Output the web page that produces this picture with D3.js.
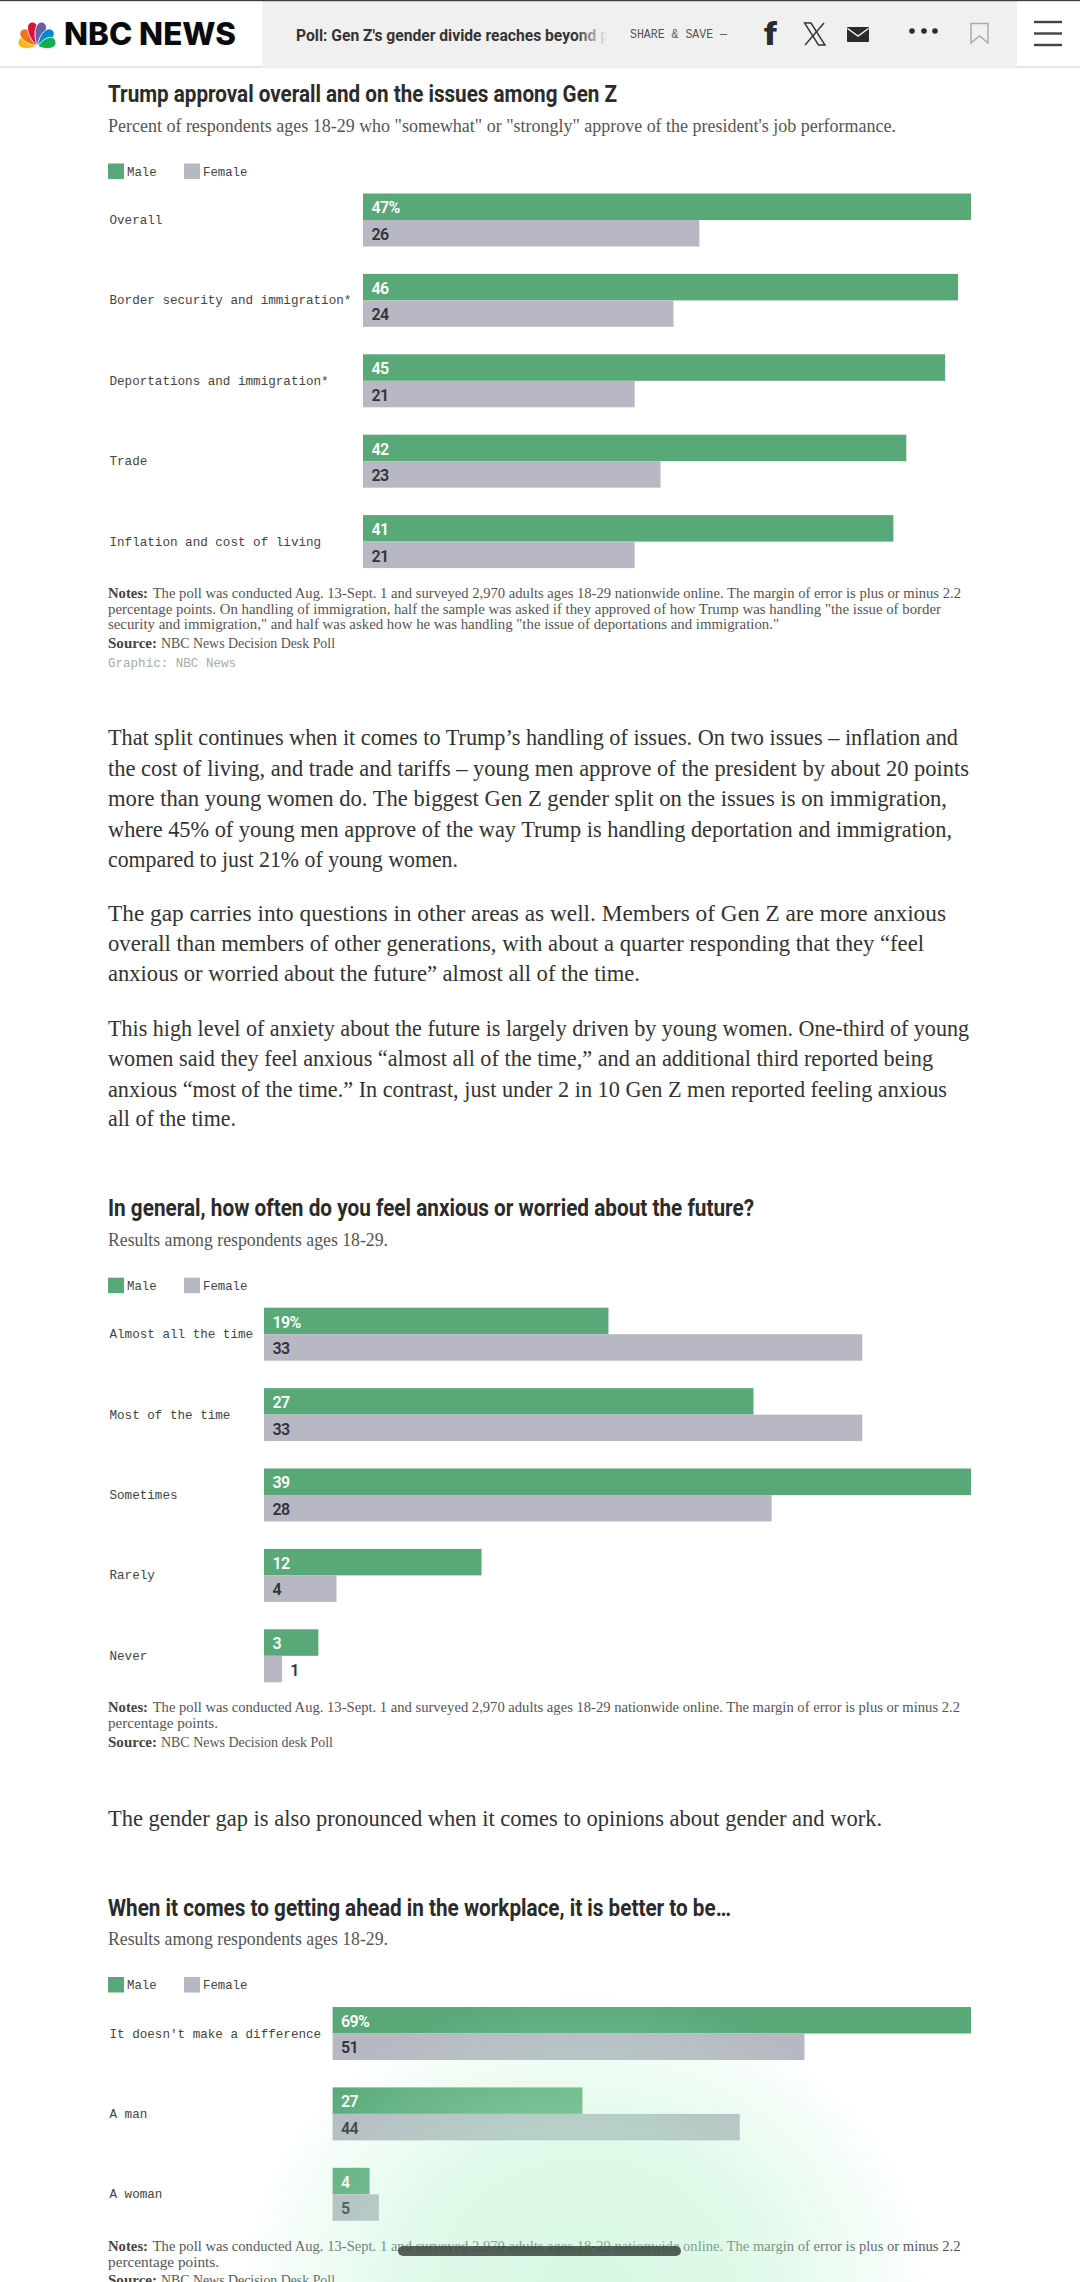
<!DOCTYPE html>
<html><head><meta charset="utf-8">
<script src="https://cdn.jsdelivr.net/npm/d3@7/dist/d3.min.js"></script>
<style>html,body{margin:0;padding:0;background:#fff;overflow:hidden}svg{display:block}</style>
</head><body><svg id="c" width="1080" height="2282"></svg>
<script>
// ---- data ----
const seriesNames = ["Male", "Female"];
const seriesColors = ["#58a878", "#b7b8c3"];

const approvalCategories = ["Overall","Border security and immigration*","Deportations and immigration*","Trade","Inflation and cost of living"];
const approvalMale = [47,46,45,42,41];
const approvalFemale = [26,24,21,23,21];

const anxietyCategories = ["Almost all the time","Most of the time","Sometimes","Rarely","Never"];
const anxietyMale = [19,27,39,12,3];
const anxietyFemale = [33,33,28,4,1];

const workCategories = ["It doesn't make a difference","A man","A woman"];
const workMale = [69,27,4];
const workFemale = [51,44,5];

const svg = d3.select("#c");
const SERIF = "'Liberation Serif',serif", SANS="Roboto,sans-serif", MONO="'Liberation Mono',monospace";

function txt(x,y,s,end,o={}){
  const t = svg.append("text").attr("x",x).attr("y",y).text(s)
    .attr("font-family",o.f||SERIF).attr("font-size",o.s||14).attr("fill",o.c||"#333")
    .attr("font-weight",o.w||400);
  if(end){t.attr("textLength",end-x).attr("lengthAdjust","spacingAndGlyphs");}
  return t;
}

// header
svg.append("rect").attr("width",1080).attr("height",66).attr("fill","#fff");
const defs = svg.append("defs");
const sh = defs.append("linearGradient").attr("id","hs").attr("x1",0).attr("x2",0).attr("y1",0).attr("y2",1);
sh.append("stop").attr("offset",0).attr("stop-color","#000").attr("stop-opacity",.14);
sh.append("stop").attr("offset",1).attr("stop-color","#000").attr("stop-opacity",0);
svg.append("rect").attr("y",66).attr("width",1080).attr("height",3).attr("fill","url(#hs)");
svg.append("rect").attr("x",262.5).attr("y",1).attr("width",754.5).attr("height",66).attr("fill","#f0f0f0");
svg.append("rect").attr("width",1080).attr("height",1.2).attr("fill","#3c3c44");

const peacock = [[-74,19.5,"#fcb711"],[-44,22.5,"#f37021"],[-13,25,"#e0103c"],[13,25,"#6460aa"],[44,22.5,"#0089d0"],[74,19.5,"#0db14b"]];
svg.append("g").attr("transform","translate(37,46.5)").selectAll("path").data(peacock).join("path")
  .attr("transform",d=>`rotate(${d[0]})`)
  .attr("d",d=>{const l=d[1],w=7.2;return `M0,-1 C${-w},${-l*.45} ${-w},${-l} 0,${-l} C${w},${-l} ${w},${-l*.45} 0,-1Z`})
  .attr("fill",d=>d[2]).attr("stroke","#fff").attr("stroke-width",.8);
txt(64,45,"NBC NEWS",236,{f:"Inter,"+SANS,s:31,w:800,c:"#0a0a0a"});

const fade = defs.append("linearGradient").attr("id","fd").attr("gradientUnits","userSpaceOnUse").attr("x1",575).attr("x2",607).attr("y1",0).attr("y2",0);
fade.append("stop").attr("offset",0).attr("stop-color","#333");
fade.append("stop").attr("offset",1).attr("stop-color","#333").attr("stop-opacity",0);
txt(296,40.5,"Poll: Gen Z's gender divide reaches beyond p",609,{f:SANS,s:16,w:700,c:"url(#fd)"});
txt(630,38,"SHARE & SAVE —",727,{f:MONO,s:12,c:"#555"});
// share icons
txt(764,45,"f",777,{f:SANS,s:31,w:900,c:"#2b2b2b"});
svg.append("path").attr("d","M804.5,23 L811,23 L825,45 L818.5,45Z").attr("fill","none").attr("stroke","#333").attr("stroke-width",1.4);
svg.append("path").attr("d","M824,23 L805,45").attr("stroke","#333").attr("stroke-width",1.4);
svg.append("rect").attr("x",847).attr("y",27).attr("width",22).attr("height",15).attr("rx",1).attr("fill","#2b2b2b");
svg.append("path").attr("d","M847.5,28.5 L858,36 L868.5,28.5").attr("fill","none").attr("stroke","#f0f0f0").attr("stroke-width",1.5);
svg.selectAll("circle.dot").data([912,924,935]).join("circle").attr("class","dot").attr("cx",d=>d).attr("cy",31).attr("r",2.8).attr("fill","#2b2b2b");
svg.append("path").attr("d","M971,23.5 H988 V43 L979.5,36 L971,43Z").attr("fill","none").attr("stroke","#aaa").attr("stroke-width",1.5);
svg.selectAll("rect.hb").data([22,33.5,45]).join("rect").attr("class","hb").attr("x",1034).attr("y",d=>d-1.2).attr("width",28).attr("height",2.4).attr("fill","#444");

function chart(o){
  txt(108,o.top-91.5,o.title,o.titleEnd,{f:SANS,s:23,w:700,c:"#2b2b2b"});
  txt(108,o.top-61.8,o.sub,o.subEnd,{s:19,c:"#555"});
  // legend
  const ly=o.top-30;
  const lx=[108,184];
  seriesNames.forEach((n,i)=>{
    svg.append("rect").attr("x",lx[i]).attr("y",ly).attr("width",16).attr("height",15.5).attr("fill",seriesColors[i]);
    txt(lx[i]+19,ly+12,n,lx[i]+19+n.length*7.4,{f:MONO,s:12.4,c:"#444"});
  });
  const n=o.cats.length, step=o.step, band=53;
  const y=d3.scaleBand().domain(o.cats).range([o.top,o.top+(n-1)*step+band]).paddingInner(1-band/step).paddingOuter(0);
  const y1=d3.scaleBand().domain(seriesNames).range([0,band]);
  const x=d3.scaleLinear().domain([0,d3.max(o.male.concat(o.female))]).range([o.x0,971]);
  const rows=o.cats.map((c,i)=>({c,vals:[o.male[i],o.female[i]]}));
  const g=svg.append("g").selectAll("g").data(rows).join("g").attr("transform",d=>`translate(0,${y(d.c)})`);
  g.append("text").attr("x",109.5).attr("y",band/2+4).text(d=>d.c)
    .attr("font-family",MONO).attr("font-size",12.6).attr("fill","#444");
  const b=g.selectAll("g").data(d=>d.vals.map((v,i)=>({v,i,s:seriesNames[i],c:d.c}))).join("g")
    .attr("transform",d=>`translate(0,${y1(d.s)})`);
  b.append("rect").attr("x",o.x0).attr("width",d=>x(d.v)-o.x0).attr("height",y1.bandwidth()).attr("fill",d=>seriesColors[d.i]);
  b.append("text").attr("y",y1.bandwidth()/2+6.7)
    .attr("x",d=>x(d.v)-o.x0<24?x(d.v)+8:o.x0+8.4)
    .text(d=>d.v+(d.i===0&&rows[0].c===d.c?"%":""))
    .attr("font-family",SANS).attr("font-size",16).attr("font-weight",600).attr("letter-spacing",-.6)
    .attr("fill",d=>d.i===0?"#fff":"#333");
}
chart({top:193.5,step:80.4,x0:363,cats:approvalCategories,male:approvalMale,female:approvalFemale,
  title:"Trump approval overall and on the issues among Gen Z",titleEnd:617,
  sub:"Percent of respondents ages 18-29 who \"somewhat\" or \"strongly\" approve of the president's job performance.",subEnd:896});
chart({top:1307.7,step:80.4,x0:264,cats:anxietyCategories,male:anxietyMale,female:anxietyFemale,
  title:"In general, how often do you feel anxious or worried about the future?",titleEnd:754,
  sub:"Results among respondents ages 18-29.",subEnd:388});
chart({top:2007,step:80.4,x0:332.6,cats:workCategories,male:workMale,female:workFemale,
  title:"When it comes to getting ahead in the workplace, it is better to be…",titleEnd:731,
  sub:"Results among respondents ages 18-29.",subEnd:388});

// notes
const N={s:15,c:"#555"},NB={s:15,c:"#444",w:700};
function note(y,lab,labEnd,restStart,s,end){txt(108,y,lab,labEnd,NB);txt(restStart,y,s,end,N);}
const poll="The poll was conducted Aug. 13-Sept. 1 and surveyed 2,970 adults ages 18-29 nationwide online. The margin of error is plus or minus 2.2";
note(598,"Notes:",148,152.7,poll,961);
txt(108,613.5,"percentage points. On handling of immigration, half the sample was asked if they approved of how Trump was handling \"the issue of border",941,N);
txt(108,629,"security and immigration,\" and half was asked how he was handling \"the issue of deportations and immigration.\"",779,N);
note(648,"Source:",157,161,"NBC News Decision Desk Poll",335);
txt(108,667,"Graphic: NBC News",236,{f:MONO,s:12,c:"#aaa"});

note(1712,"Notes:",148,152.7,poll,960);
txt(108,1728,"percentage points.",218,N);
note(1747,"Source:",157,161,"NBC News Decision desk Poll",333);

note(2250.7,"Notes:",148,152.7,poll,960.5);
txt(108,2266.7,"percentage points.",219,N);
note(2285,"Source:",157,161,"NBC News Decision Desk Poll",335);

// body text
const paragraphs=[
 [745,"That split continues when it comes to Trump’s handling of issues. On two issues – inflation and",958],
 [775.5,"the cost of living, and trade and tariffs – young men approve of the president by about 20 points",969],
 [806,"more than young women do. The biggest Gen Z gender split on the issues is on immigration,",947],
 [836.5,"where 45% of young men approve of the way Trump is handling deportation and immigration,",952],
 [867,"compared to just 21% of young women.",458],
 [920.5,"The gap carries into questions in other areas as well. Members of Gen Z are more anxious",946],
 [950.5,"overall than members of other generations, with about a quarter responding that they “feel",924],
 [981,"anxious or worried about the future” almost all of the time.",640],
 [1036,"This high level of anxiety about the future is largely driven by young women. One-third of young",969],
 [1066,"women said they feel anxious “almost all of the time,” and an additional third reported being",933],
 [1096.5,"anxious “most of the time.” In contrast, just under 2 in 10 Gen Z men reported feeling anxious",947],
 [1126,"all of the time.",236],
 [1826,"The gender gap is also pronounced when it comes to opinions about gender and work.",882]];
paragraphs.forEach(p=>txt(108,p[0],p[1],p[2],{s:24,c:"#333"}));

// bottom glow + home indicator
const gl=defs.append("radialGradient").attr("id","gl");
[[0,.55],[.25,.5],[.55,.4],[.68,.28],[.88,.12],[1,0]].forEach(s=>gl.append("stop").attr("offset",s[0]).attr("stop-color","#b6f2cc").attr("stop-opacity",s[1]));
svg.append("ellipse").attr("cx",585).attr("cy",2290).attr("rx",345).attr("ry",300).attr("fill","url(#gl)");
svg.append("rect").attr("x",398).attr("y",2246).attr("width",283).attr("height",10).attr("rx",5).attr("fill","#3c4640").attr("fill-opacity",.85);
</script></body></html>
